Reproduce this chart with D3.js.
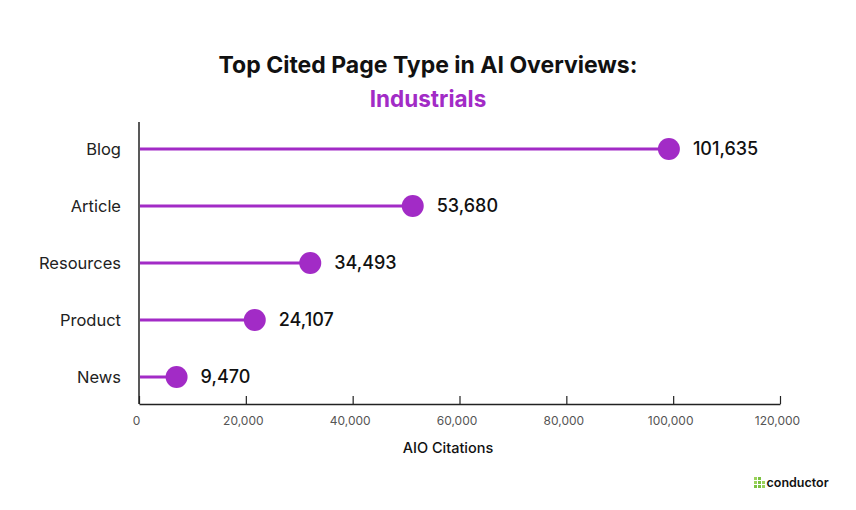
<!DOCTYPE html>
<html><head><meta charset="utf-8">
<script src="https://cdn.jsdelivr.net/npm/d3@7"></script>
<style>body{margin:0;background:#fff}svg{display:block}</style>
</head><body>
<script>
const categories = ["Blog","Article","Resources","Product","News"];
const values = [101635, 53680, 34493, 24107, 9470];
const tickValues = [0,20000,40000,60000,80000,100000,120000];
const titleText = "Top Cited Page Type in AI Overviews:";
const subtitleText = "Industrials";
const xTitle = "AIO Citations";

const W = 856, H = 510;
const purple = "#A22BC6";
const font = "Inter, 'Open Sans', sans-serif";
const svg = d3.select("body").append("svg").attr("width", W).attr("height", H);

const x = d3.scaleLinear().domain([0,120000]).range([139,780]);
const xMark = d3.scaleLinear().domain([0,120000]).range([126,767]);
const y = d3.scalePoint().domain(categories).range([149,377]);

svg.append("text").attr("x",428).attr("y",73).attr("text-anchor","middle")
  .attr("font-family",font).attr("font-weight",700).attr("font-size",23).attr("fill","#111").text(titleText);
svg.append("text").attr("x",428).attr("y",107).attr("text-anchor","middle")
  .attr("font-family",font).attr("font-weight",700).attr("font-size",22.5).attr("fill",purple).text(subtitleText);

// x axis
const gx = svg.append("g").attr("transform","translate(0,404)")
  .call(d3.axisBottom(x).tickValues(tickValues).tickSize(-8).tickSizeOuter(0).tickPadding(12).tickFormat(d3.format(",")));
gx.select(".domain").attr("stroke","#222").attr("stroke-width",1.5);
gx.selectAll(".tick line").attr("stroke","#222").attr("stroke-width",1.2);
gx.selectAll(".tick text").attr("font-family",font).attr("font-size",12).attr("fill","#555").attr("dx",-3);

// y axis line
svg.append("line").attr("x1",139).attr("x2",139).attr("y1",122).attr("y2",404).attr("stroke","#222").attr("stroke-width",1.5);

svg.append("text").attr("x",448).attr("y",453).attr("text-anchor","middle")
  .attr("font-family",font).attr("font-weight",500).attr("font-size",14.5).attr("fill","#111").text(xTitle);

const data = categories.map((c,i)=>({c, v: values[i]}));
const rows = svg.append("g").selectAll("g").data(data).join("g");
rows.append("line").attr("x1",140).attr("x2",d=>xMark(d.v)).attr("y1",d=>y(d.c)).attr("y2",d=>y(d.c))
  .attr("stroke",purple).attr("stroke-width",3);
rows.append("circle").attr("cx",d=>xMark(d.v)).attr("cy",d=>y(d.c)).attr("r",11).attr("fill",purple);
rows.append("text").attr("x",d=>xMark(d.v)+24).attr("y",d=>y(d.c)).attr("dy","0.35em")
  .attr("font-family",font).attr("font-weight",500).attr("font-size",18).attr("fill","#111")
  .text(d=>d3.format(",")(d.v));
rows.append("text").attr("x",121).attr("y",d=>y(d.c)).attr("dy","0.35em").attr("text-anchor","end")
  .attr("font-family",font).attr("font-size",16.5).attr("fill","#222").text(d=>d.c);

// logo
const logo = svg.append("g").attr("transform","translate(754,477)");
const sq = [[0,0],[4,0],[0,4],[4,4],[8,4],[4,8],[8,8],[0,8]];
logo.selectAll("rect").data(sq).join("rect").attr("x",d=>d[0]).attr("y",d=>d[1]).attr("width",3).attr("height",3)
  .attr("fill",(d,i)=> i%2 ? "#7BC142" : "#9BD35A");
logo.append("text").attr("x",12.5).attr("y",10).attr("font-family",font).attr("font-weight",600).attr("font-size",12.5)
  .attr("fill","#111").text("conductor");
</script>
</body></html>
